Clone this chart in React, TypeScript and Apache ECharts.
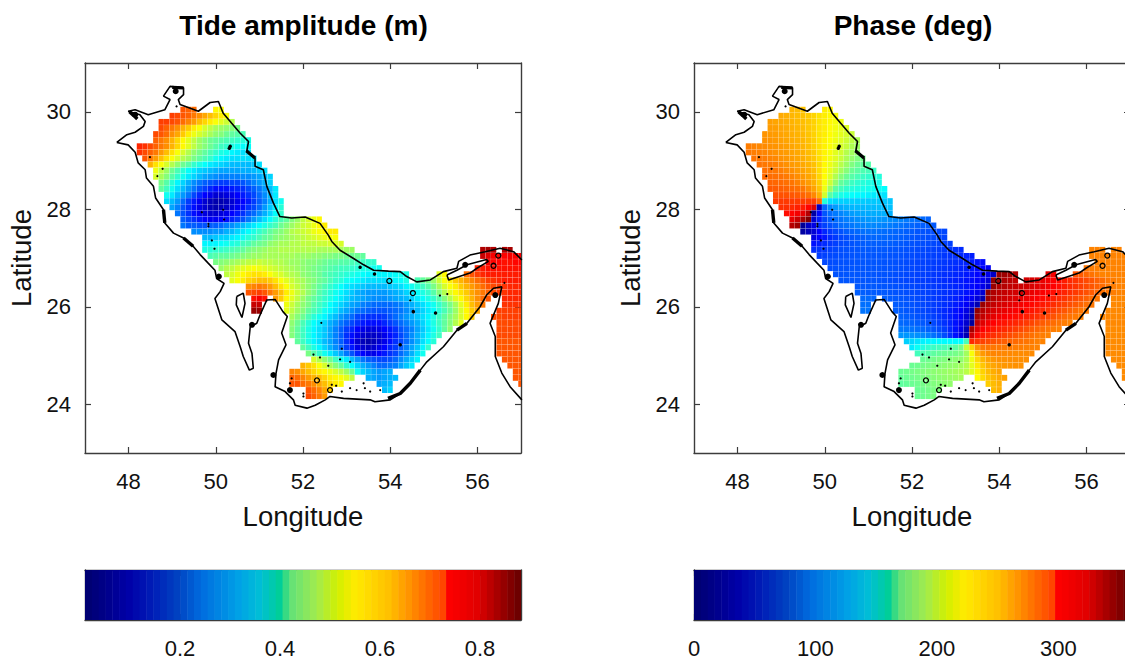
import React, { useEffect, useRef } from "react";
import * as echarts from "echarts";

const FONT = "Liberation Sans";
const LON_TICKS = [48, 50, 52, 54, 56];
const LAT_TICKS = [24, 26, 28, 30];
const AMP_TICKS = [0.2, 0.4, 0.6, 0.8];
const PHASE_TICKS = [0, 100, 200, 300];
const AMP_RANGE = [0.01, 0.882];
const PHASE_RANGE = [0, 359];
const CELL_DEG = 0.125;

const LATS = [30.04,29.915,29.79,29.665,29.54,29.415,29.29,29.165,29.04,28.915,28.79,28.665,28.54,28.415,28.29,28.165,28.04,27.915,27.79,27.665,27.54,27.415,27.29,27.165,27.04,26.915,26.79,26.665,26.54,26.415,26.29,26.165,26.04,25.915,25.79,25.665,25.54,25.415,25.29,25.165,25.04,24.915,24.79,24.665,24.54,24.415,24.29,24.165];

// Tide amplitude in cm. Each row follows LATS; each segment is [first longitude, values...]
const AMP_CM: number[][][] = [
[[49.25,70,69,68],[50,56,55]],
[[49,72,71,70,69,67,65,63,61,59,57,55]],
[[48.75,72,72,71,70,68,66,64,61,59,57,55,53,51,49]],
[[48.75,71,69,67,65,62,60,57,55,52,50,48,47,46,45,44]],
[[48.625,71,70,68,65,63,60,57,54,52,50,48,46,45,43,42,41,40]],
[[48.625,69,67,65,62,59,56,53,50,47,45,43,42,41,40,39,38,37,36]],
[[48.25,74,73,71,69,67,65,62,59,56,53,50,47,45,43,41,39,38,36,35,34,34]],
[[48.25,73,71,69,67,64,61,58,55,52,49,46,44,42,40,38,36,35,33,32,31,31]],
[[48.375,70,67,64,61,58,55,52,49,47,44,42,40,38,35,33,32,31,31,31,31,32]],
[[48.5,62,58,55,52,49,46,43,41,38,36,34,32,31,30,29,28,28,28,28,29,31]],
[[48.625,54,50,47,43,40,37,34,32,30,29,28,27,26,26,26,26,27,27,28,29,31]],
[[48.625,52,48,45,41,38,35,32,30,28,26,25,24,23,23,23,23,24,24,25,26,28,30]],
[[48.75,44,41,37,33,30,27,24,22,20,19,18,17,17,18,18,19,21,23,25,27,30]],
[[48.75,42,39,35,31,28,25,22,19,17,15,13,13,13,14,15,16,18,20,22,25,28,32]],
[[48.875,35,32,28,25,22,18,15,12,10,8,8,9,10,12,14,16,18,21,24,28,32]],
[[48.875,31,28,25,21,17,14,11,8,6,5,5,6,8,10,12,14,17,20,23,27,31,35]],
[[49,26,23,19,16,13,10,8,6,5,6,7,9,11,13,16,18,21,25,29,33,37]],
[[49.125,22,19,16,13,11,9,8,8,9,10,12,14,16,19,21,24,27,30,34,38]],
[[49.25,20,18,16,14,12,11,11,12,13,15,17,19,22,25,28,31,34,37,40,42,45,47,50,52,54,56]],
[[49.25,22,20,20,19,19,20,20,21,23,24,26,28,30,32,34,36,38,40,43,45,47,49,51,52,54,56,57]],
[[49.5,24,24,24,24,25,25,27,28,30,32,34,36,38,40,42,44,45,47,49,50,51,52,54,55,56,57,57]],
[[49.75,28,28,29,30,30,32,33,35,37,38,40,42,43,45,46,47,48,49,50,51,52,53,54,55,55]],
[[49.75,33,33,33,34,35,36,37,39,40,42,43,44,46,47,48,48,49,49,50,50,50,51,51,52,52,52]],
[[49.75,36,37,38,38,39,40,41,42,44,45,46,47,48,48,49,49,49,49,49,49,49,48,48,48,48,48,47,47],[56.125,84,85,84],[56.625,84,85]],
[[49.875,40,41,42,42,43,44,45,46,47,47,48,48,48,48,48,48,47,47,47,46,46,45,45,44,44,43,43,43,42],[56.125,82,80,78,77,77,78,78,78]],
[[50,44,45,46,47,48,49,50,50,51,50,50,49,49,48,47,47,46,45,45,44,43,42,42,41,41,40,39,39,38,38],[56.25,78,77,77,76,76,77,77]],
[[50.125,47,49,50,52,53,54,55,54,53,52,51,50,49,48,47,46,45,44,43,42,41,40,39,39,38,37,36,36,35,35],[56,74,75,76,76,76,76,76,76,76]],
[[50.25,50,52,54,56,57,58,58,57,55,53,52,50,49,48,46,45,44,43,41,40,39,38,37,36,35,34,33,33,33,33,33,34,35,36],[55.125,53,56],[55.75,68,70,72,74,75,75,75,75,75,75,75]],
[[50.375,53,55,57,59,60,61,61,60,58,55,53,51,49,48,46,45,43,42,40,38,37,35,34,33,32,31,31,31,31,32,33,34,36],[54.625,40,42,44,47,51,55,57,60,62,64,66,68,70,72,73,74,75,75,75,75]],
[[50.75,65,66,67,66,64,61,58,55,52,50,48,46,44,42,40,38,36,34,32,31,30,29,28,28,28,28,29,30,31,33,35,37,39,41,44,48,52,55,57,60,62,64,66,68,70,71,72,73,74,74,74]],
[[50.75,70,71,72,70,67,64,61,57,54,51,49,46,44,41,39,37,35,33,31,29,27,26,25,25,25,25,26,27,28,30,32,34,36,38,41,45,49,53,56,58,60,63,65,67,69,71,72,73,74,74,74]],
[[50.875,76,78,76],[51.375,64,60,56,53,50,47,44,42,40,38,36,34,32,30,28,27,26,25,24,24,24,25,26,27,28,30,32,34,36,38,41,45,49,53,56,59,62,65,68,70],[56.625,74,74,74,74]],
[[50.875,82,82],[51.625,54,51,48,46,44,41,39,37,34,32,30,28,26,25,23,22,21,21,21,21,22,23,25,27,29,31,33,35,38,41,44,48,53,57,61,64,67],[56.625,73,73,73,73]],
[[50.875,86,86],[51.625,53,50,47,45,42,40,38,35,33,31,28,26,24,22,21,20,19,19,19,20,21,22,24,26,28,30,32,34,37,40,43,47,52,56,60,63],[56.5,72,72,72,72,72]],
[[51.75,48,45,43,40,37,35,33,30,28,25,23,21,18,17,16,16,16,17,19,21,23,25,27,29,31,33,36,39,42,45,48,52,56,60],[56.375,71,71,72,72,72,72]],
[[51.75,46,43,40,37,34,32,30,27,25,22,20,18,16,14,13,13,13,15,17,19,21,23,25,27,30,33,36,39,42,45,49,53],[56.5,71,71,71,71,71]],
[[51.75,45,42,39,36,33,31,29,26,23,20,17,15,12,10,9,9,10,12,14,16,19,21,23,26,29,32,35,38,42,46],[56.5,71,71,71,71,71]],
[[51.75,45,42,39,36,33,31,29,26,23,20,16,13,10,8,7,7,8,10,13,15,18,21,24,27,30,33,36,39],[56.5,71,71,71,71,71]],
[[51.875,42,39,36,33,31,28,26,23,20,16,12,8,6,5,6,8,10,13,16,18,21,24,27,31,34,37],[56.5,70,70,70,70,70]],
[[52,42,39,36,33,30,27,24,21,17,14,10,8,7,8,10,12,15,17,20,23,26,29,33,38],[56.5,70,70,70,70,70]],
[[52.125,44,41,38,35,32,29,26,22,19,15,12,10,10,12,14,16,18,21,24,27,31,35],[56.5,70,70,70,70,70]],
[[52.25,52,49,46,43,39,35,32,28,25,22,20,19,18,18,19,21,24,27,30,33],[56.625,70,70,70,70]],
[[52,62,60,58,55,52,48,45,42,38,34,30,27,25,23,21,21,22,23,26,29,32],[56.75,70,70,70]],
[[51.75,66,65,63,61,59,57,56,54,52,50,47,43,35,30,28,26,25,26,27],[56.875,70,70]],
[[51.75,69,68,66,64,62,61,59,57,56,55,53,50],[53.5,27,26,25,26,27,28],[56.875,70,70]],
[[51.75,70,70,68,67,65,63,61,59,57,56],[53.75,26,27,28],[57,70]],
[[52.125,70,68,66,63,60],[53.875,28,30]],
[[52.125,71,69,67,64]],
];

// Tide phase in degrees, same rows and segments as AMP_CM
const PHASE_DEG: number[][][] = [
[[49.25,250,248,245],[50,230,226]],
[[49,254,252,250,248,246,243,239,234,230,226,222]],
[[48.75,258,256,255,253,251,249,247,244,240,234,230,226,221,217]],
[[48.75,259,258,256,254,252,250,248,244,240,234,230,225,220,216,212]],
[[48.625,262,260,259,257,255,253,251,249,245,240,234,230,225,219,215,210,205]],
[[48.625,263,262,260,258,256,254,252,250,246,241,234,229,224,218,213,207,201,195]],
[[48.25,270,268,266,265,263,262,260,258,256,253,251,247,241,235,229,223,216,210,204,196,190]],
[[48.25,272,270,269,267,265,263,261,259,257,255,252,248,243,235,228,222,214,208,198,192,186]],
[[48.375,273,272,270,268,266,263,261,259,256,253,249,244,236,228,220,213,205,195,187,180,174]],
[[48.5,274,272,271,269,266,263,260,258,255,251,246,237,226,218,209,199,189,180,172,168,164]],
[[48.625,275,274,272,270,266,264,260,257,253,248,237,226,216,205,192,182,172,167,162,159,155]],
[[48.625,277,276,275,274,271,268,264,260,256,250,239,225,212,196,182,172,165,160,155,152,149,147]],
[[48.75,279,278,277,275,273,269,264,259,252,241,222,206,186,170,163,156,151,148,145,143,141]],
[[48.75,283,282,281,279,277,275,272,265,257,245,218,190,168,158,151,147,144,142,141,139,137,135]],
[[48.875,287,286,285,284,282,279,275,266,252,208,166,151,143,139,136,134,132,130,128,126,125]],
[[48.875,294,294,294,294,294,293,293,292,277,147,124,120,119,118,118,117,117,116,116,116,115,115]],
[[49,297,298,300,303,305,313,325,22,80,94,100,105,108,109,110,110,111,111,112,112,113]],
[[49.125,310,313,318,323,340,12,48,75,83,88,92,96,100,102,104,105,106,106,107,107]],
[[49.25,323,333,345,358,28,55,70,78,84,86,90,92,95,97,99,100,99,97,95,93,91,88,86,84,82,80]],
[[49.25,340,348,8,25,35,60,68,73,78,83,85,87,90,92,93,93,92,91,89,87,85,83,81,79,78,77,76]],
[[49.5,12,20,30,45,58,65,70,74,78,80,82,84,85,85,84,83,82,81,80,78,77,75,74,73,72,71,70]],
[[49.75,35,45,52,60,65,70,72,75,77,78,80,81,81,81,80,79,78,77,75,74,73,72,71,70,69]],
[[49.75,50,55,60,64,67,70,72,74,76,77,78,78,78,78,78,77,76,75,74,73,72,71,70,69,68,67]],
[[49.75,60,63,65,68,70,72,73,74,75,76,76,76,76,76,75,75,74,73,72,71,70,69,68,66,65,64,62,60],[56.125,268,268,268],[56.625,268,268]],
[[49.875,66,68,70,71,72,73,74,75,75,75,75,75,75,74,74,73,72,71,70,69,68,67,66,64,63,61,59,57,55],[56.125,268,268,268,268,268,268,268,268]],
[[50,70,71,72,73,74,74,75,75,75,75,75,74,74,73,72,71,70,69,68,67,66,65,64,62,61,59,57,54,51,48],[56.25,268,268,268,268,268,268,268]],
[[50.125,72,73,74,74,75,75,75,75,75,75,74,74,73,72,71,70,69,68,67,65,64,63,61,59,57,55,52,48,44,40],[56,272,270,269,268,268,268,268,268,268]],
[[50.25,74,74,75,75,75,75,75,75,74,74,73,72,71,70,69,68,67,66,64,63,61,60,58,56,53,50,46,42,38,25,350,348,345,342],[55.125,325,318],[55.75,285,282,278,274,271,268,268,268,268,268,268]],
[[50.375,75,75,75,75,75,75,75,74,73,72,71,70,69,68,67,66,65,63,62,60,58,56,54,51,48,44,40,32,352,345,342,338,335],[54.625,330,328,325,322,318,314,310,305,300,296,292,288,284,280,276,272,270,268,268,268]],
[[50.75,76,76,76,76,75,75,74,73,72,71,70,69,67,66,65,63,62,60,58,55,52,48,44,38,28,350,342,340,336,334,332,330,328,325,322,318,314,310,305,300,296,292,288,284,280,276,272,270,268,268,268]],
[[50.75,78,78,77,77,76,76,75,74,73,72,71,70,68,67,65,64,62,60,58,55,51,46,40,30,352,342,338,335,332,330,328,325,322,319,316,313,310,306,302,298,294,290,286,282,278,274,272,270,268,268,268]],
[[50.875,82,82,81],[51.375,78,77,76,75,74,72,71,69,67,65,63,61,59,56,52,47,41,32,18,348,340,335,332,329,326,323,320,317,314,311,308,304,300,296,292,288,284,280,276,272],[56.625,266,266,266,266]],
[[50.875,84,84],[51.625,77,76,75,74,72,70,68,66,64,61,58,54,49,42,33,18,350,340,335,330,327,324,321,318,315,312,309,306,303,299,295,291,287,283,279,275,272],[56.625,266,266,266,266]],
[[50.875,86,86],[51.625,78,77,75,74,72,70,68,65,62,59,55,50,44,35,20,352,340,333,328,325,322,319,316,313,310,307,304,300,296,292,288,284,280,276,272,270],[56.5,266,266,266,266,266]],
[[51.75,79,78,76,74,72,70,67,64,60,56,50,43,32,15,345,335,328,323,319,316,313,310,307,304,301,297,293,289,285,281,277,274,271,269],[56.375,266,266,266,266,266,266]],
[[51.75,82,81,80,78,76,73,70,66,62,57,50,40,28,10,335,325,318,314,310,307,304,301,298,294,290,286,282,279,276,273,270,268],[56.5,266,266,266,266,266]],
[[51.75,88,87,86,84,82,79,75,71,66,59,50,38,20,345,325,315,310,306,303,300,297,293,289,285,281,278,275,272,270,268],[56.5,265,265,265,265,265]],
[[51.75,98,98,97,96,93,90,85,80,72,62,50,35,18,330,312,305,301,298,295,291,288,284,281,278,275,272,270,268],[56.5,265,265,265,265,265]],
[[51.875,118,122,126,130,132,133,134,134,134,134,134,160,300,294,291,288,285,283,281,279,277,275,273,271,269,268],[56.5,265,265,265,265,265]],
[[52,128,138,146,152,155,158,160,163,167,175,205,240,262,272,273,272,272,271,271,270,270,269,269,268],[56.5,265,265,265,265,265]],
[[52.125,158,162,165,168,170,172,174,176,180,192,222,248,260,265,267,267,266,266,265,265,265,265],[56.5,265,265,265,265,265]],
[[52.25,172,174,176,178,180,182,184,186,195,218,238,250,257,261,263,263,264,264,264,264],[56.625,265,265,265,265]],
[[52,172,174,176,178,180,182,184,186,188,192,198,215,232,244,252,256,259,261,262,263,263],[56.75,265,265,265]],
[[51.75,172,174,176,178,180,182,184,186,188,190,192,195,200,214,228,240,248,253,257],[56.875,265,265]],
[[51.75,170,172,174,176,178,180,182,184,186,188,190,193],[53.5,225,237,245,250,254,257],[56.875,265,265]],
[[51.75,168,170,172,174,176,178,180,182,184,186],[53.75,242,248,252],[57,265]],
[[52.125,172,174,176,178,180],[53.875,248,252]],
[[52.125,172,174,176,178]],
];

const NORTH_COAST = [[47.73,29.37],[47.96,29.53],[48.15,29.58],[48.34,29.7],[48.38,29.8],[48.26,29.94],[47.99,30.01],[48.15,30.04],[48.45,29.94],[48.83,30.04],[48.95,30.25],[48.8,30.32],[48.95,30.52],[49.26,30.49],[49.26,30.35],[49.14,30.25],[49.18,30.15],[49.6,30.01],[49.87,30.19],[50.06,30.21],[50.17,29.97],[50.36,29.77],[50.56,29.56],[50.75,29.39],[50.71,29.19],[50.9,29.05],[50.9,28.88],[51.09,28.81],[51.17,28.47],[51.32,28.13],[51.47,27.85],[51.74,27.82],[52.05,27.84],[52.39,27.71],[52.58,27.47],[52.66,27.34],[52.85,27.16],[53.16,26.99],[53.39,26.86],[53.62,26.75],[53.96,26.73],[54.23,26.72],[54.38,26.62],[54.61,26.51],[54.92,26.55],[55.22,26.72],[55.53,26.79],[55.57,26.93],[55.83,27.06],[56.18,27.13],[56.52,27.2],[56.83,27.13],[57.02,26.96]];
const SOUTH_COAST = [[47.73,29.37],[47.99,29.32],[48.15,29.17],[48.22,28.95],[48.38,28.81],[48.41,28.64],[48.57,28.47],[48.62,28.23],[48.8,27.99],[48.83,27.72],[49.03,27.51],[49.26,27.41],[49.48,27.24],[49.64,27.07],[49.83,26.89],[49.98,26.75],[50.02,26.58],[50.19,26.48],[50.1,26.31],[49.98,26.17],[50.14,25.73],[50.44,25.49],[50.56,25.18],[50.63,24.98],[50.77,24.7],[50.86,24.74],[50.83,25.04],[50.75,25.25],[50.79,25.59],[50.94,25.66],[51,25.8],[51.17,26.14],[51.36,26.15],[51.54,25.9],[51.64,25.8],[51.51,25.46],[51.61,25.22],[51.44,24.91],[51.38,24.63],[51.36,24.36],[51.59,24.26],[51.78,24.09],[51.82,23.98],[52.09,23.92],[52.28,23.98],[52.51,24.09],[52.62,24.16],[52.93,24.12],[53.54,24.09],[53.65,24.05],[54,24.09],[54.23,24.22],[54.46,24.43],[54.69,24.7],[54.84,24.87],[55.22,25.18],[55.53,25.52],[55.76,25.66],[56.06,26],[56.21,26.24],[56.37,26.38],[56.56,26.41],[56.48,26.07],[56.29,25.66],[56.41,25.39],[56.41,24.98],[56.56,24.64],[56.75,24.36],[57.02,24.09]];
const QESHM = [[55.3,26.65],[55.53,26.75],[55.76,26.86],[56.21,26.97],[56.25,26.93],[55.99,26.79],[55.83,26.69],[55.34,26.55],[55.3,26.65]];
const BAHRAIN = [[50.48,26.21],[50.63,26.28],[50.67,26.07],[50.6,25.78],[50.47,26.04],[50.48,26.21]];
const COASTS = [NORTH_COAST, SOUTH_COAST, QESHM, BAHRAIN];
const THICK_COASTS = [[[53.95,24.12],[54.23,24.22],[54.46,24.43],[54.69,24.7]],[[55.53,25.52],[55.76,25.66]],[[48.8,27.99],[48.83,27.72]],[[49.26,27.41],[49.48,27.24]],[[49,30.5],[49.26,30.49]],[[50.7,29.2],[50.9,29.05]],[[48.02,30],[48.12,29.92],[48.2,29.85]]];
const BIG_ISLANDS = [[50.83,25.63],[55.72,26.86],[56.41,26.24],[51.32,24.6],[48.15,29.94],[49.08,30.42],[51.7,24.29],[50.07,26.62]];
const MID_ISLANDS = [[53.31,26.81],[53.64,26.67],[55.04,25.87],[54.53,25.9],[54.23,25.22],[50.33,29.29],[50.31,29.25]];
const RING_ISLANDS = [[54.52,26.28],[53.98,26.53],[52.32,24.49],[52.62,24.29],[56.48,27.05],[56.37,26.84]];
const SMALL_ISLANDS = [[48.49,29.07],[48.78,28.83],[48.66,28.68],[49.68,27.94],[50.17,27.99],[50.19,27.79],[49.83,27.7],[49.83,27.65],[49.91,27.36],[49.97,27.19],[49.1,30.11],[54.46,26.13],[55.31,26.26],[55.14,26.23],[52.42,25.67],[52.89,25.14],[52.24,25.02],[52.39,24.96],[52.85,24.92],[53.08,24.87],[52.58,24.79],[51.74,24.53],[51.7,24.43],[52.01,24.22],[52.01,24.16],[52.66,24.4],[52.76,24.38],[52.89,24.26],[53.08,24.33],[53.23,24.29],[53.39,24.43],[53.42,24.33],[53.54,24.26],[53.77,24.29],[56.62,26.49]];

// Colour stops
const JET = ["#00007f", "#0000ff", "#007fff", "#00ffff", "#7fff7f", "#ffff00", "#ff7f00", "#ff0000", "#7f0000"];
const BAR_STOPS: [number, string][] = [[0,"#00006e"],[0.1,"#0000a8"],[0.16,"#0020b8"],[0.21,"#0040c0"],[0.27,"#006ee0"],[0.35,"#00a0e6"],[0.4,"#00bed7"],[0.455,"#00d28c"],[0.465,"#5ce07c"],[0.53,"#a0eb50"],[0.58,"#d2f000"],[0.62,"#ffeb00"],[0.7,"#ffbe00"],[0.76,"#ff8200"],[0.825,"#ff4000"],[0.83,"#ff0000"],[0.9,"#e10000"],[0.96,"#960000"],[1,"#640000"]];
const BAR_BANDS = 64;

const jetColor = (t: number) => echarts.color.lerp(Math.max(0, Math.min(1, t)), JET) as string;
const barColor = (t: number) => {
  for (let i = 1; i < BAR_STOPS.length; i++) {
    if (t <= BAR_STOPS[i][0]) {
      const [a, ca] = BAR_STOPS[i - 1];
      const [b, cb] = BAR_STOPS[i];
      return echarts.color.lerp((t - a) / (b - a), [ca, cb]) as string;
    }
  }
  return BAR_STOPS[BAR_STOPS.length - 1][1];
};

const FRAME = "#3c3c3c";
const tickLabel = { fontFamily: FONT, fontSize: 22, color: "#111" };

function axis(kind: "x" | "y", gridIndex: number, min: number, max: number, ticks: number[], opts: any = {}) {
  const labelled = !!opts.labelled;
  return {
    type: "value",
    gridIndex,
    min,
    max,
    position: opts.position,
    name: opts.name,
    nameLocation: "middle",
    nameGap: opts.nameGap,
    nameTextStyle: { fontFamily: FONT, fontSize: 27.5, color: "#111" },
    splitLine: { show: false },
    axisLine: { show: true, onZero: false, lineStyle: { color: FRAME, width: 1.4 } },
    axisTick: { show: ticks.length > 0, inside: true, length: 6, customValues: ticks, lineStyle: { color: FRAME, width: 1.2 } },
    axisLabel: { show: labelled, customValues: ticks, margin: kind === "x" ? 17 : 14, ...tickLabel, formatter: opts.formatter },
  };
}

function cells(rows: number[][][], axisBase: number, toT: (v: number) => number) {
  const data: number[][] = [];
  rows.forEach((segments, i) => {
    segments.forEach((seg) => {
      for (let j = 1; j < seg.length; j++) data.push([seg[0] + (j - 1) * CELL_DEG, LATS[i], seg[j]]);
    });
  });
  return {
    type: "custom",
    xAxisIndex: axisBase,
    yAxisIndex: axisBase,
    clip: true,
    silent: true,
    z: 2,
    data,
    renderItem: (_p: any, api: any) => {
      const c = api.coord([api.value(0), api.value(1)]);
      const s = api.size([CELL_DEG, CELL_DEG]);
      return {
        type: "rect",
        shape: { x: c[0] - s[0] / 2, y: c[1] - s[1] / 2, width: s[0] - 0.18, height: s[1] - 0.18 },
        style: { fill: jetColor(toT(api.value(2))) },
      };
    },
  };
}

function geography(axisBase: number) {
  const out: any[] = [];
  const lineOf = (line: number[][], width: number) => ({ type: "line", xAxisIndex: axisBase, yAxisIndex: axisBase, data: line, symbol: "none", silent: true, z: 5, clip: true, lineStyle: { color: "#000", width } });
  COASTS.forEach((line) => out.push(lineOf(line, 1.6)));
  THICK_COASTS.forEach((line) => out.push(lineOf(line, 3.4)));
  const dots = (data: number[][], size: number, ring = false) => ({
    type: "scatter",
    xAxisIndex: axisBase,
    yAxisIndex: axisBase,
    data,
    symbolSize: size,
    silent: true,
    z: 6,
    itemStyle: ring ? { color: "rgba(0,0,0,0)", borderColor: "#000", borderWidth: 1.3, opacity: 1 } : { color: "#000", opacity: 1 },
  });
  out.push(dots(BIG_ISLANDS, 6), dots(MID_ISLANDS, 3.5), dots(RING_ISLANDS, 5, true), dots(SMALL_ISLANDS, 2.2));
  return out;
}

function colorbar(axisBase: number, range: number[]) {
  const step = (range[1] - range[0]) / BAR_BANDS;
  const data: number[][] = [];
  for (let i = 0; i < BAR_BANDS; i++) data.push([range[0] + (i + 0.5) * step, 0.5, (i + 0.5) / BAR_BANDS]);
  return {
    type: "custom",
    xAxisIndex: axisBase,
    yAxisIndex: axisBase,
    clip: true,
    silent: true,
    z: 2,
    data,
    renderItem: (_p: any, api: any) => {
      const c = api.coord([api.value(0), api.value(1)]);
      const s = api.size([step, 1]);
      return {
        type: "rect",
        shape: { x: c[0] - s[0] / 2, y: c[1] - s[1] / 2, width: s[0] + 0.5, height: s[1] },
        style: { fill: barColor(api.value(2)) },
      };
    },
  };
}

const ampT = (cm: number) => (cm / 100 - AMP_RANGE[0]) / (AMP_RANGE[1] - AMP_RANGE[0]);
const phaseT = (deg: number) => (deg - PHASE_RANGE[0]) / (PHASE_RANGE[1] - PHASE_RANGE[0]);

export default function App() {
  const ref = useRef<HTMLDivElement>(null);
  useEffect(() => {
    const chart = echarts.init(ref.current!, undefined, { renderer: "svg" });
    const mapGrids = [85, 694];
    const titleStyle = { fontFamily: FONT, fontSize: 28, fontWeight: "bold", fill: "#000", align: "center", verticalAlign: "middle" };
    const graphic = [
      { type: "text", x: 303.5, y: 25, style: { ...titleStyle, text: "Tide amplitude (m)" } },
      { type: "text", x: 913, y: 25, style: { ...titleStyle, text: "Phase (deg)" } },
    ];
    const grid = [
      ...mapGrids.map((left) => ({ left, top: 63, width: 436, height: 390 })),
      ...mapGrids.map((left) => ({ left, top: 570, width: 436, height: 50 })),
    ];
    const xAxis: any[] = [];
    const yAxis: any[] = [];
    [0, 1].forEach((g) => {
      xAxis.push(axis("x", g, 47, 57, LON_TICKS, { position: "bottom", labelled: true, name: "Longitude", nameGap: 49 }));
      xAxis.push(axis("x", g, 47, 57, LON_TICKS, { position: "top" }));
      yAxis.push(axis("y", g, 23, 31, LAT_TICKS, { position: "left", labelled: true, name: "Latitude", nameGap: 50 }));
      yAxis.push(axis("y", g, 23, 31, LAT_TICKS, { position: "right" }));
    });
    const bars = [
      { range: AMP_RANGE, ticks: AMP_TICKS, fmt: (v: number) => v.toFixed(1) },
      { range: PHASE_RANGE, ticks: PHASE_TICKS, fmt: (v: number) => String(v) },
    ];
    bars.forEach((b, n) => {
      const g = n + 2;
      xAxis.push(axis("x", g, b.range[0], b.range[1], b.ticks, { position: "bottom", labelled: true, formatter: b.fmt }));
      xAxis.push(axis("x", g, b.range[0], b.range[1], b.ticks, { position: "top" }));
      yAxis.push(axis("y", g, 0, 1, [], { position: "left" }));
      yAxis.push(axis("y", g, 0, 1, [], { position: "right" }));
    });
    chart.setOption({
      animation: false,
      backgroundColor: "#fff",
      graphic,
      grid,
      xAxis,
      yAxis,
      series: [
        cells(AMP_CM, 0, ampT),
        ...geography(0),
        cells(PHASE_DEG, 2, phaseT),
        ...geography(2),
        colorbar(4, AMP_RANGE),
        colorbar(6, PHASE_RANGE),
      ],
    });
    return () => chart.dispose();
  }, []);
  return (
    <div style={{ position: "absolute", left: 0, top: 0, width: 1125, height: 663, overflow: "hidden" }}>
      <div ref={ref} style={{ width: 1135, height: 663 }} />
    </div>
  );
}
